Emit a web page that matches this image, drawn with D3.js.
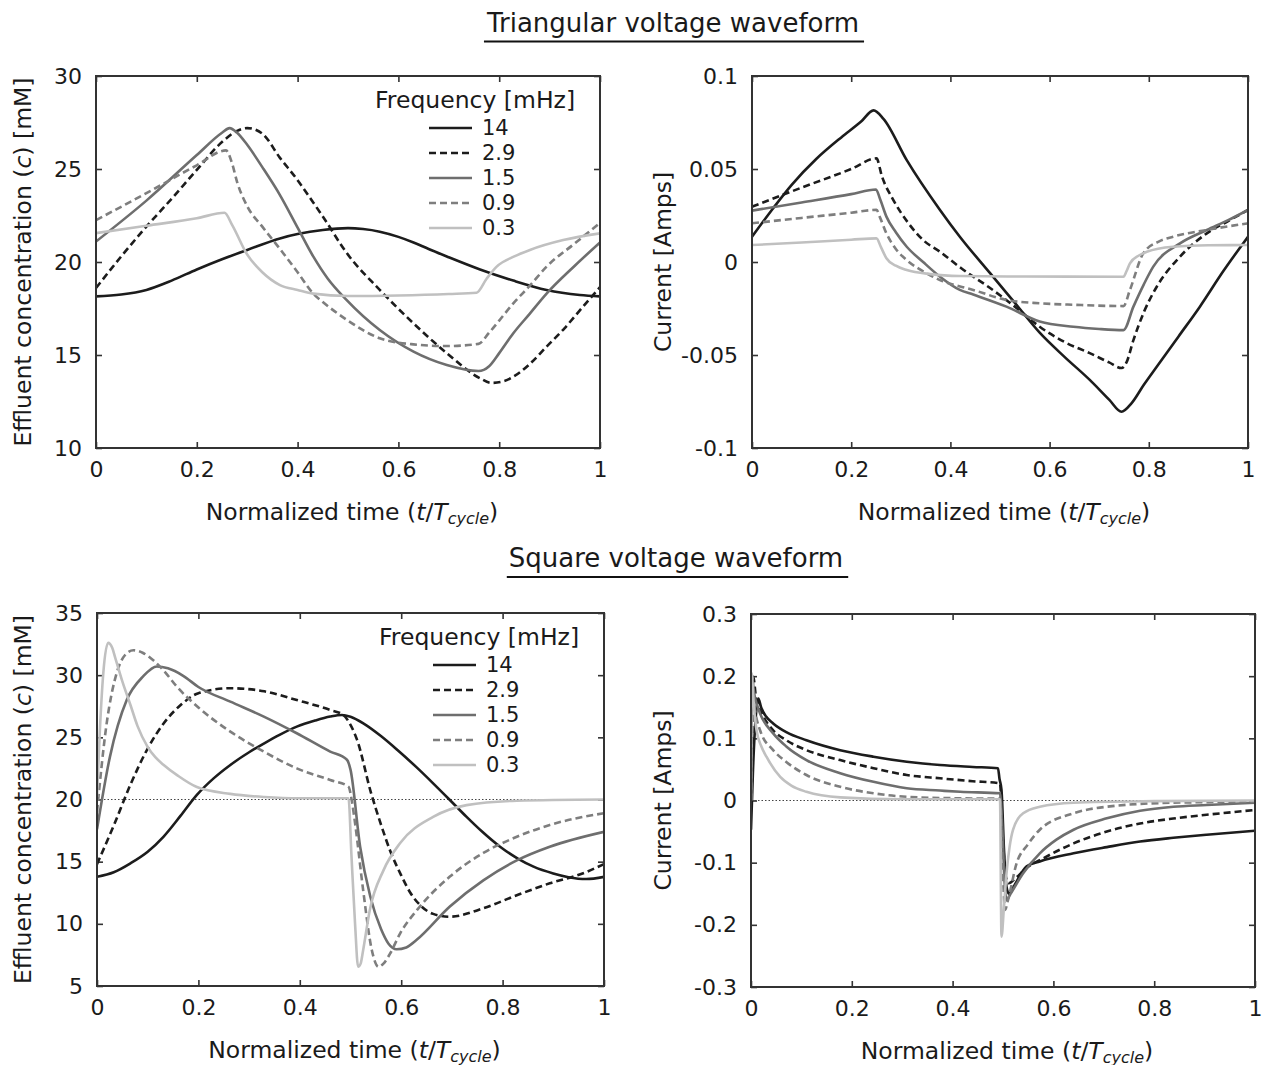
<!DOCTYPE html>
<html>
<head>
<meta charset="utf-8">
<script src="https://cdn.jsdelivr.net/npm/d3@7"></script>
<style>
  body { margin: 0; background: #fff; }
  svg { font-family: "DejaVu Sans", Verdana, sans-serif; fill: #1a1a1a; }
</style>
</head>
<body>
<svg id="chart" width="1262" height="1065"></svg>
<script>
// ---- data ----
const freqLabels = ["14", "2.9", "1.5", "0.9", "0.3"];
const xTickVals = [0, 0.2, 0.4, 0.6, 0.8, 1];
const triConcTicks = [10, 15, 20, 25, 30];
const triCurrTicks = [-0.1, -0.05, 0, 0.05, 0.1];
const sqConcTicks = [5, 10, 15, 20, 25, 30, 35];
const sqCurrTicks = [-0.3, -0.2, -0.1, 0, 0.1, 0.2, 0.3];

// triangular waveform, effluent concentration [mM]
const triC14 = [[0,18.15],[0.05,18.25],[0.1,18.5],[0.15,19.0],[0.2,19.6],[0.25,20.15],[0.3,20.65],[0.365,21.27],[0.4,21.5],[0.45,21.72],[0.5,21.82],[0.53,21.77],[0.563,21.63],[0.6,21.35],[0.63,21.05],[0.66,20.7],[0.696,20.3],[0.762,19.6],[0.828,19.0],[0.894,18.5],[0.96,18.23],[1,18.15]];
const triC29 = [[0,18.6],[0.05,20.3],[0.1,21.9],[0.15,23.4],[0.2,24.95],[0.25,26.45],[0.28,27.05],[0.3,27.2],[0.33,26.9],[0.365,25.6],[0.4,24.4],[0.431,23.2],[0.45,22.45],[0.497,20.5],[0.563,18.5],[0.63,16.7],[0.696,15.1],[0.762,13.75],[0.785,13.5],[0.81,13.6],[0.828,13.83],[0.86,14.5],[0.894,15.45],[0.93,16.45],[0.96,17.4],[1,18.65]];
const triC15 = [[0,21.1],[0.1,23.3],[0.2,25.75],[0.25,26.95],[0.265,27.2],[0.28,26.95],[0.3,26.3],[0.33,25.1],[0.365,23.6],[0.4,21.85],[0.431,20.3],[0.46,19.1],[0.497,17.96],[0.563,16.34],[0.63,15.18],[0.696,14.46],[0.759,14.14],[0.78,14.4],[0.8,15.1],[0.828,16.17],[0.86,17.2],[0.894,18.3],[0.95,19.8],[1,21.05]];
const triC09 = [[0,22.25],[0.1,23.7],[0.2,25.2],[0.258,26.0],[0.27,25.3],[0.28,24.3],[0.3,23.0],[0.33,21.9],[0.365,20.7],[0.4,19.45],[0.431,18.3],[0.45,17.85],[0.497,16.9],[0.563,15.9],[0.63,15.57],[0.696,15.48],[0.759,15.6],[0.78,16.2],[0.8,16.85],[0.828,17.78],[0.86,18.7],[0.894,19.75],[0.95,21.0],[1,22.1]];
const triC03 = [[0,21.55],[0.1,21.95],[0.2,22.35],[0.255,22.65],[0.27,22.0],[0.3,20.4],[0.33,19.45],[0.365,18.76],[0.4,18.5],[0.431,18.3],[0.5,18.17],[0.6,18.2],[0.7,18.28],[0.755,18.35],[0.775,19.1],[0.795,19.75],[0.83,20.3],[0.861,20.65],[0.927,21.18],[1,21.54]];

// triangular waveform, current [A]
const triI14 = [[0,0.0136],[0.04,0.028],[0.08,0.0415],[0.13,0.0555],[0.18,0.067],[0.22,0.0755],[0.245,0.0815],[0.265,0.077],[0.312,0.0548],[0.379,0.028],[0.419,0.0136],[0.48,-0.006],[0.53,-0.022],[0.58,-0.038],[0.63,-0.051],[0.681,-0.0634],[0.72,-0.074],[0.745,-0.0805],[0.765,-0.076],[0.79,-0.066],[0.816,-0.0563],[0.86,-0.04],[0.903,-0.024],[0.95,-0.005],[1,0.0136]];
const triI29 = [[0,0.0297],[0.1,0.04],[0.2,0.05],[0.251,0.0557],[0.262,0.046],[0.285,0.0333],[0.315,0.021],[0.345,0.0118],[0.379,0.0055],[0.42,-0.003],[0.48,-0.014],[0.53,-0.024],[0.58,-0.0348],[0.63,-0.043],[0.681,-0.049],[0.72,-0.054],[0.745,-0.057],[0.755,-0.054],[0.769,-0.042],[0.79,-0.027],[0.816,-0.0133],[0.863,0.0029],[0.917,0.0154],[0.96,0.022],[1,0.028]];
const triI15 = [[0,0.0276],[0.1,0.032],[0.2,0.0365],[0.25,0.039],[0.258,0.034],[0.271,0.0244],[0.29,0.016],[0.312,0.0082],[0.345,0.0],[0.379,-0.0079],[0.419,-0.015],[0.446,-0.0175],[0.513,-0.024],[0.58,-0.032],[0.648,-0.0348],[0.7,-0.036],[0.749,-0.0366],[0.769,-0.024],[0.79,-0.012],[0.809,-0.0025],[0.863,0.01],[0.917,0.0172],[0.96,0.0225],[1,0.028]];
const triI09 = [[0,0.0208],[0.1,0.0237],[0.2,0.0265],[0.251,0.028],[0.258,0.024],[0.271,0.0154],[0.29,0.007],[0.312,0.001],[0.345,-0.005],[0.379,-0.0097],[0.446,-0.015],[0.513,-0.0204],[0.58,-0.0222],[0.65,-0.023],[0.749,-0.0237],[0.762,-0.015],[0.789,0.0047],[0.82,0.011],[0.849,0.0136],[0.917,0.0172],[1,0.0208]];
const triI03 = [[0,0.0091],[0.1,0.0105],[0.2,0.012],[0.251,0.0127],[0.26,0.008],[0.271,0.002],[0.29,-0.002],[0.312,-0.0043],[0.36,-0.0065],[0.419,-0.0075],[0.55,-0.0078],[0.749,-0.0079],[0.755,-0.005],[0.762,-0.0007],[0.78,0.0035],[0.796,0.0055],[0.849,0.0082],[0.92,0.009],[1,0.0091]];

// square waveform, effluent concentration [mM]
const sqC14 = [[0,13.78],[0.033,14.15],[0.066,14.87],[0.1,15.8],[0.131,17.0],[0.165,18.7],[0.197,20.37],[0.23,21.7],[0.263,22.78],[0.3,23.8],[0.329,24.5],[0.36,25.2],[0.394,25.86],[0.43,26.35],[0.46,26.67],[0.483,26.8],[0.5,26.65],[0.526,26.1],[0.56,25.1],[0.592,24.0],[0.63,22.6],[0.663,21.3],[0.696,19.96],[0.729,18.6],[0.76,17.4],[0.795,16.2],[0.83,15.25],[0.861,14.6],[0.9,14.05],[0.93,13.75],[0.965,13.6],[1,13.78]];
const sqC29 = [[0,14.8],[0.033,17.9],[0.066,21.2],[0.1,24.1],[0.131,26.1],[0.165,27.6],[0.2,28.55],[0.263,28.95],[0.33,28.7],[0.394,28.0],[0.46,27.2],[0.486,26.8],[0.5,26.0],[0.513,24.8],[0.54,20.6],[0.56,18.0],[0.578,15.9],[0.6,13.9],[0.618,12.5],[0.64,11.4],[0.663,10.8],[0.696,10.57],[0.762,11.25],[0.828,12.3],[0.893,13.26],[0.959,14.07],[1,14.8]];
const sqC15 = [[0,17.6],[0.0256,23.45],[0.0586,28.0],[0.091,29.9],[0.118,30.7],[0.14,30.55],[0.17,29.95],[0.2,29.05],[0.263,27.87],[0.329,26.67],[0.394,25.33],[0.46,23.85],[0.493,23.2],[0.5,22.4],[0.519,16.2],[0.539,12.2],[0.56,9.6],[0.575,8.4],[0.591,7.95],[0.61,8.1],[0.63,8.7],[0.696,11.4],[0.762,13.5],[0.828,15.1],[0.893,16.2],[1,17.4]];
const sqC09 = [[0,19.0],[0.019,26.1],[0.039,30.2],[0.055,31.6],[0.072,32.0],[0.09,31.8],[0.111,31.2],[0.135,30.2],[0.157,29.1],[0.2,27.4],[0.263,25.46],[0.329,23.85],[0.394,22.5],[0.46,21.57],[0.496,21.03],[0.503,19.8],[0.509,18.1],[0.525,12.7],[0.542,7.9],[0.555,6.55],[0.565,6.8],[0.578,7.6],[0.598,9.24],[0.631,11.1],[0.696,13.8],[0.762,15.7],[0.828,17.0],[0.893,17.95],[1,18.9]];
const sqC03 = [[0,20.2],[0.005,25.0],[0.0125,30.2],[0.022,32.6],[0.03,32.2],[0.036,31.4],[0.05,29.5],[0.066,27.6],[0.08,25.9],[0.099,24.3],[0.115,23.4],[0.131,22.8],[0.16,21.9],[0.197,21.0],[0.263,20.45],[0.33,20.2],[0.4,20.1],[0.496,20.1],[0.502,15.4],[0.509,10.0],[0.515,6.55],[0.52,6.8],[0.525,7.9],[0.538,11.1],[0.565,14.3],[0.598,16.5],[0.663,18.6],[0.729,19.55],[0.828,19.9],[1,20.0]];

// square waveform, current [A]
const sqI14 = [[0,-0.047],[0.004,0.05],[0.01,0.14],[0.0146,0.164],[0.02,0.15],[0.03,0.135],[0.044,0.124],[0.07,0.11],[0.11,0.097],[0.177,0.081],[0.243,0.0705],[0.309,0.0624],[0.375,0.057],[0.44,0.054],[0.49,0.052],[0.493,0.035],[0.497,0.017],[0.502,-0.08],[0.507,-0.139],[0.512,-0.15],[0.52,-0.14],[0.547,-0.106],[0.573,-0.098],[0.64,-0.085],[0.706,-0.075],[0.772,-0.066],[0.838,-0.06],[0.904,-0.055],[1,-0.0486]];
const sqI29 = [[0,-0.015],[0.002,0.1],[0.0046,0.199],[0.01,0.165],[0.0245,0.135],[0.044,0.113],[0.07,0.097],[0.11,0.081],[0.177,0.065],[0.243,0.052],[0.309,0.041],[0.375,0.0357],[0.44,0.031],[0.494,0.0276],[0.499,-0.05],[0.505,-0.12],[0.511,-0.133],[0.525,-0.125],[0.547,-0.108],[0.573,-0.096],[0.64,-0.069],[0.706,-0.05],[0.772,-0.037],[0.838,-0.029],[0.904,-0.023],[1,-0.0153]];
const sqI15 = [[0,0.0],[0.002,0.19],[0.008,0.165],[0.018,0.14],[0.044,0.108],[0.07,0.087],[0.11,0.065],[0.177,0.044],[0.243,0.03],[0.309,0.0196],[0.375,0.016],[0.415,0.014],[0.494,0.0116],[0.499,-0.05],[0.503,-0.13],[0.507,-0.16],[0.515,-0.15],[0.54,-0.117],[0.573,-0.085],[0.606,-0.063],[0.64,-0.047],[0.706,-0.0287],[0.772,-0.0164],[0.838,-0.01],[0.904,-0.0072],[1,-0.0035]];
const sqI09 = [[0,0.0],[0.002,0.2],[0.006,0.16],[0.018,0.113],[0.044,0.081],[0.07,0.062],[0.11,0.041],[0.177,0.022],[0.243,0.0116],[0.309,0.006],[0.415,0.0035],[0.494,0.003],[0.499,-0.1],[0.504,-0.176],[0.51,-0.16],[0.527,-0.101],[0.55,-0.07],[0.573,-0.047],[0.64,-0.0206],[0.706,-0.01],[0.838,-0.0035],[1,-0.002]];
const sqI03 = [[0,0.0],[0.0013,0.205],[0.005,0.16],[0.011,0.113],[0.02,0.088],[0.031,0.07],[0.058,0.038],[0.08,0.024],[0.11,0.014],[0.177,0.005],[0.3,0.002],[0.494,0.002],[0.497,-0.219],[0.502,-0.17],[0.507,-0.117],[0.513,-0.075],[0.52,-0.047],[0.54,-0.0206],[0.573,-0.01],[0.64,-0.0035],[0.8,-0.001],[1,0]];

// ---- styles ----
const lineColor = ["#1c1c1c", "#1c1c1c", "#6e6e6e", "#7e7e7e", "#c0c0c0"];
const lineDash = [null, "7,4", null, "7,4", null];
const axisColor = "#333";
const labelSize = 23.5;

const svg = d3.select('#chart');

// panel boxes in page pixels
const panels = [
  { box: [96, 600, 76, 448], yDom: [10, 30], yTicks: triConcTicks, series: [triC14, triC29, triC15, triC09, triC03], ylab: 'conc', legend: true },
  { box: [752, 1248, 76, 448], yDom: [-0.1, 0.1], yTicks: triCurrTicks, series: [triI14, triI29, triI15, triI09, triI03], ylab: 'curr' },
  { box: [97, 604, 613, 986], yDom: [5, 35], yTicks: sqConcTicks, series: [sqC14, sqC29, sqC15, sqC09, sqC03], ylab: 'conc', legend: true, ref: 20 },
  { box: [751, 1255, 614, 987], yDom: [-0.3, 0.3], yTicks: sqCurrTicks, series: [sqI14, sqI29, sqI15, sqI09, sqI03], ylab: 'curr', ref: 0 }
];

panels.forEach((p, i) => {
  let [x0, x1, y0, y1] = p.box;
  let w = x1 - x0, h = y1 - y0;
  let g = svg.append('g').attr('transform', `translate(${x0},${y0})`);

  let x = d3.scaleLinear().domain([0, 1]).range([0, w]);
  let y = d3.scaleLinear().domain(p.yDom).range([h, 0]);

  // axes with inward ticks on all four sides
  let bottom = g.append('g').attr('transform', `translate(0,${h})`)
    .call(d3.axisBottom(x).tickValues(xTickVals).tickSizeInner(-6).tickSizeOuter(0)
      .tickPadding(13).tickFormat(d => String(d)));
  let left = g.append('g')
    .call(d3.axisLeft(y).tickValues(p.yTicks).tickSizeInner(-6).tickSizeOuter(0)
      .tickPadding(14).tickFormat(d => String(d)));
  let top = g.append('g')
    .call(d3.axisTop(x).tickValues(xTickVals).tickSizeInner(-6).tickSizeOuter(0).tickFormat(''));
  let right = g.append('g').attr('transform', `translate(${w},0)`)
    .call(d3.axisRight(y).tickValues(p.yTicks).tickSizeInner(-6).tickSizeOuter(0).tickFormat(''));
  [bottom, left, top, right].forEach(a => {
    a.select('.domain').remove();
    a.selectAll('line').attr('stroke', axisColor).attr('stroke-width', 1.6);
    a.selectAll('text').attr('font-size', 22).attr('fill', '#1a1a1a')
      .attr('font-family', '"DejaVu Sans", Verdana, sans-serif');
  });

  // clip
  g.append('clipPath').attr('id', 'clip' + i)
    .append('rect').attr('width', w).attr('height', h);
  let plot = g.append('g').attr('clip-path', `url(#clip${i})`);

  // dotted reference line
  if (p.ref !== undefined) {
    plot.append('line')
      .attr('x1', 0).attr('x2', w)
      .attr('y1', y(p.ref)).attr('y2', y(p.ref))
      .attr('stroke', '#444').attr('stroke-width', 1)
      .attr('stroke-dasharray', '1.5,2');
  }

  let line = d3.line()
    .x(d => x(d[0]))
    .y(d => y(d[1]))
    .curve(d3.curveMonotoneX);

  plot.selectAll('path.series')
    .data(p.series)
    .enter()
    .append('path')
      .attr('class', 'series')
      .attr('d', d => line(d))
      .attr('fill', 'none')
      .attr('stroke', (d, k) => lineColor[k])
      .attr('stroke-width', 2.6)
      .attr('stroke-dasharray', (d, k) => lineDash[k]);

  // frame
  g.append('rect').attr('width', w).attr('height', h)
    .attr('fill', 'none').attr('stroke', axisColor).attr('stroke-width', 2);

  // x label
  let xl = g.append('text')
    .attr('x', w / 2 + 4).attr('y', h + 64)
    .attr('text-anchor', 'middle').attr('dominant-baseline', 'central')
    .attr('font-size', labelSize);
  xl.append('tspan').text('Normalized time (');
  xl.append('tspan').attr('font-style', 'italic').text('t');
  xl.append('tspan').text('/');
  xl.append('tspan').attr('font-style', 'italic').text('T');
  xl.append('tspan').attr('font-style', 'italic').attr('font-size', 16).attr('dy', 6).text('cycle');
  xl.append('tspan').attr('dy', -6).text(')');

  // y label
  let yl = g.append('text')
    .attr('transform', `translate(${(i % 2 === 0 ? 23 : 663) - x0},${h / 2}) rotate(-90)`)
    .attr('text-anchor', 'middle').attr('dominant-baseline', 'central')
    .attr('font-size', labelSize);
  if (p.ylab === 'conc') {
    yl.append('tspan').text('Effluent concentration (');
    yl.append('tspan').attr('font-style', 'italic').text('c');
    yl.append('tspan').text(') [mM]');
  } else {
    yl.text('Current [Amps]');
  }

  // legend
  if (p.legend) {
    let lg = g.append('g').attr('transform', `translate(${w - 225},24)`);
    lg.append('text').attr('x', 0).attr('y', 0)
      .attr('dominant-baseline', 'central').attr('font-size', labelSize)
      .text('Frequency [mHz]');
    freqLabels.forEach((f, k) => {
      let yy = 28 + k * 25;
      lg.append('line').attr('x1', 54).attr('x2', 97)
        .attr('y1', yy).attr('y2', yy)
        .attr('stroke', lineColor[k]).attr('stroke-width', 2.6)
        .attr('stroke-dasharray', lineDash[k]);
      lg.append('text').attr('x', 107).attr('y', yy)
        .attr('dominant-baseline', 'central').attr('font-size', 21)
        .text(f);
    });
  }
});

// section titles with underline
function sectionTitle(txt, cx, baseline, uy) {
  let t = svg.append('text')
    .attr('x', cx).attr('y', baseline)
    .attr('text-anchor', 'middle').attr('font-size', 26)
    .text(txt);
  let bb = t.node().getBBox();
  svg.append('line')
    .attr('x1', bb.x - 2).attr('x2', bb.x + bb.width + 5)
    .attr('y1', uy).attr('y2', uy)
    .attr('stroke', '#111').attr('stroke-width', 2);
}
sectionTitle('Triangular voltage waveform', 673, 32, 41.5);
sectionTitle('Square voltage waveform', 676, 567, 577);
</script>
</body>
</html>
